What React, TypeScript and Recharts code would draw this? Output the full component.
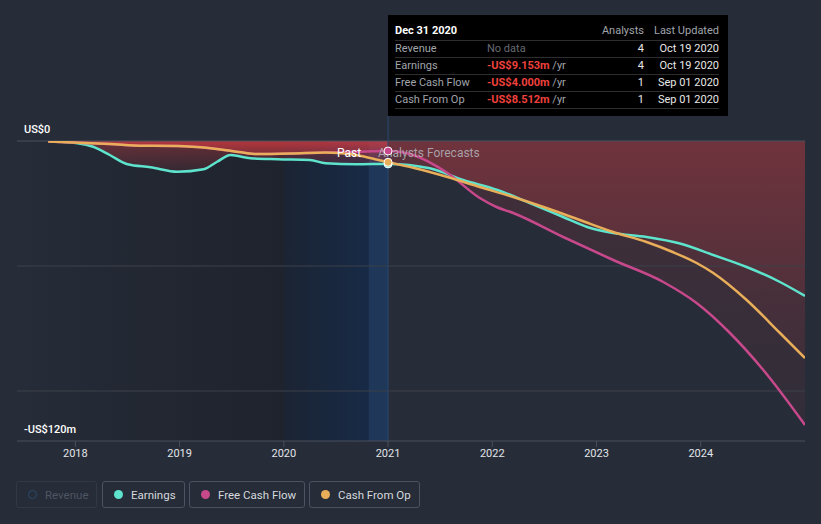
import React from "react";
import {
  ComposedChart,
  Line,
  Area,
  XAxis,
  YAxis,
  ReferenceArea,
  ReferenceLine,
  ReferenceDot,
} from "recharts";

document.body.style.margin = "0";
document.body.style.background = "#262c38";

// t = fractional year, v = US$ millions
const earnings = [
  { t: 2017.74, v: -0.1 },
  { t: 2018.02, v: -0.9 },
  { t: 2018.17, v: -2.3 },
  { t: 2018.33, v: -5.6 },
  { t: 2018.5, v: -9.3 },
  { t: 2018.72, v: -10.5 },
  { t: 2018.98, v: -12.3 },
  { t: 2019.23, v: -11.3 },
  { t: 2019.36, v: -8.3 },
  { t: 2019.49, v: -5.6 },
  { t: 2019.68, v: -6.9 },
  { t: 2019.94, v: -7.3 },
  { t: 2020.25, v: -7.6 },
  { t: 2020.4, v: -8.9 },
  { t: 2020.69, v: -9.3 },
  { t: 2021.0, v: -9.153 },
  { t: 2021.4, v: -10.9 },
  { t: 2021.72, v: -15.6 },
  { t: 2022.05, v: -19.6 },
  { t: 2022.36, v: -24.8 },
  { t: 2022.68, v: -30.4 },
  { t: 2022.91, v: -34.4 },
  { t: 2023.16, v: -36.8 },
  { t: 2023.48, v: -38.4 },
  { t: 2023.8, v: -41.0 },
  { t: 2024.12, v: -45.6 },
  { t: 2024.44, v: -50.4 },
  { t: 2024.76, v: -56.4 },
  { t: 2025.0, v: -62 },
];

const freeCashFlow = [
  { t: 2017.74, v: -0.2 },
  { t: 2018.33, v: -1.2 },
  { t: 2018.65, v: -1.9 },
  { t: 2018.98, v: -2.0 },
  { t: 2019.3, v: -2.9 },
  { t: 2019.62, v: -4.7 },
  { t: 2019.72, v: -5.2 },
  { t: 2020.07, v: -5.0 },
  { t: 2020.4, v: -4.6 },
  { t: 2020.69, v: -4.3 },
  { t: 2021.0, v: -4.0 },
  { t: 2021.24, v: -5.6 },
  { t: 2021.57, v: -12.8 },
  { t: 2021.88, v: -22.8 },
  { t: 2022.04, v: -26.4 },
  { t: 2022.2, v: -28.8 },
  { t: 2022.68, v: -38.4 },
  { t: 2023.16, v: -47.6 },
  { t: 2023.64, v: -56.4 },
  { t: 2023.96, v: -64.8 },
  { t: 2024.28, v: -76.8 },
  { t: 2024.6, v: -91.6 },
  { t: 2025.0, v: -113.6 },
];

const cashFromOp = [
  { t: 2017.74, v: -0.2 },
  { t: 2018.33, v: -1.2 },
  { t: 2018.65, v: -1.9 },
  { t: 2018.98, v: -2.0 },
  { t: 2019.3, v: -2.9 },
  { t: 2019.62, v: -4.7 },
  { t: 2019.72, v: -5.2 },
  { t: 2020.07, v: -5.0 },
  { t: 2020.4, v: -4.6 },
  { t: 2020.65, v: -5.3 },
  { t: 2020.84, v: -6.9 },
  { t: 2021.0, v: -8.512 },
  { t: 2021.25, v: -10.8 },
  { t: 2021.57, v: -14.4 },
  { t: 2021.88, v: -18.4 },
  { t: 2022.2, v: -22.4 },
  { t: 2022.52, v: -26.8 },
  { t: 2022.84, v: -31.6 },
  { t: 2023.16, v: -36.4 },
  { t: 2023.48, v: -40.4 },
  { t: 2023.73, v: -44.4 },
  { t: 2023.96, v: -48.8 },
  { t: 2024.12, v: -52.8 },
  { t: 2024.44, v: -63.6 },
  { t: 2024.76, v: -76.8 },
  { t: 2025.0, v: -86.8 },
];

const yearTicks = [2018, 2019, 2020, 2021, 2022, 2023, 2024];
const gridValues = [-50, -100];
const xDomain = [2017.44, 2025.0];
const yDomain = [-120, 0];
const todayT = 2021.0;
const pastStart = 2020.0;
const bandStart = 2020.815;

const tooltipRows = [
  { name: "Revenue", value: null, analysts: "4", updated: "Oct 19 2020" },
  { name: "Earnings", value: "-US$9.153m", analysts: "4", updated: "Oct 19 2020" },
  { name: "Free Cash Flow", value: "-US$4.000m", analysts: "1", updated: "Sep 01 2020" },
  { name: "Cash From Op", value: "-US$8.512m", analysts: "1", updated: "Sep 01 2020" },
];

const legendItems = [
  { name: "Revenue", color: "#2b4a6b", off: true, left: 16, width: 81 },
  { name: "Earnings", color: "#5ee3cd", off: false, left: 102, width: 83 },
  { name: "Free Cash Flow", color: "#c8488c", off: false, left: 189, width: 116 },
  { name: "Cash From Op", color: "#e9ae5a", off: false, left: 309, width: 111 },
];

const TEAL = "#5ee3cd";
const PINK = "#c8488c";
const ORANGE = "#e9ae5a";
const FONT = "Roboto, 'Noto Sans', sans-serif";

const past = (d: { t: number; v: number }[]) => d.filter((p) => p.t <= todayT);
const future = (d: { t: number; v: number }[]) => d.filter((p) => p.t >= todayT);

const YLabel = (text: string) => (props: any) => {
  const { viewBox } = props;
  return (
    <text x={24} y={viewBox.y - 8} fill="#ffffff" fontSize={11} fontWeight={500} fontFamily={FONT}>
      {text}
    </text>
  );
};

const TodayLabel = (props: any) => {
  const { viewBox } = props;
  const x = viewBox.x;
  const y = viewBox.y;
  return (
    <g>
      <line x1={x} x2={x} y1={y - 25} y2={y} stroke="#2c4870" strokeWidth={1} />
      <text x={x - 27} y={y + 16} textAnchor="end" fill="#ffffff" fontSize={12} fontFamily={FONT}>
        Past
      </text>
      <text x={x - 10} y={y + 16} fill="#b4b7bd" fillOpacity={0.85} fontSize={12} fontFamily={FONT}>
        Analysts Forecasts
      </text>
    </g>
  );
};

const Tooltipish = () => (
  <div
    style={{
      position: "absolute",
      left: 388,
      top: 15,
      width: 340,
      height: 101,
      background: "#000",
      fontFamily: FONT,
      fontSize: 11,
      boxSizing: "border-box",
      padding: "7px 9px 0 7px",
    }}
  >
    <div
      style={{
        display: "grid",
        gridTemplateColumns: "92px 107px 50px 75px",
        height: 18,
        lineHeight: "18px",
        borderBottom: "1px solid #2e2e2e",
      }}
    >
      <span style={{ color: "#fff", fontWeight: 700 }}>Dec 31 2020</span>
      <span />
      <span style={{ color: "#a0a4ab", textAlign: "right" }}>Analysts</span>
      <span style={{ color: "#a0a4ab", textAlign: "right" }}>Last Updated</span>
    </div>
    {tooltipRows.map((r) => (
      <div
        key={r.name}
        style={{
          display: "grid",
          gridTemplateColumns: "92px 107px 50px 75px",
          height: 16,
          lineHeight: "16px",
          borderBottom: "1px solid #2e2e2e",
        }}
      >
        <span style={{ color: "#a0a4ab" }}>{r.name}</span>
        {r.value ? (
          <span>
            <span style={{ color: "#f0403c", fontWeight: 700 }}>{r.value}</span>
            <span style={{ color: "#a0a4ab" }}> /yr</span>
          </span>
        ) : (
          <span style={{ color: "#676b73" }}>No data</span>
        )}
        <span style={{ color: "#e8e8e8", textAlign: "right" }}>{r.analysts}</span>
        <span style={{ color: "#e8e8e8", textAlign: "right" }}>{r.updated}</span>
      </div>
    ))}
  </div>
);

const LegendBoxes = () => (
  <>
    {legendItems.map((it) => (
      <div
        key={it.name}
        style={{
          position: "absolute",
          left: it.left,
          top: 481,
          width: it.width,
          height: 27,
          boxSizing: "border-box",
          border: `1px solid ${it.off ? "#323945" : "#4c5260"}`,
          borderRadius: 3,
          display: "flex",
          alignItems: "center",
          paddingLeft: 11,
          fontFamily: FONT,
          fontSize: 11.5,
          color: it.off ? "#4e5563" : "#d5d8dd",
        }}
      >
        <span
          style={{
            display: "inline-block",
            width: 9,
            height: 9,
            borderRadius: "50%",
            boxSizing: "border-box",
            background: it.off ? "transparent" : it.color,
            border: it.off ? `1.5px solid ${it.color}` : "none",
            marginRight: 8,
          }}
        />
        {it.name}
      </div>
    ))}
  </>
);

export default function App() {
  return (
    <div style={{ position: "relative", width: 821, height: 524, background: "#262c38", overflow: "hidden" }}>
      <ComposedChart width={821} height={470} margin={{ top: 141, right: 16, bottom: 0, left: 17 }}>
        <defs>
          <linearGradient id="pastShade" x1="0" y1="0" x2="1" y2="0">
            <stop offset="0%" stopColor="#0b0d11" stopOpacity={0} />
            <stop offset="100%" stopColor="#0b0d11" stopOpacity={0.3} />
          </linearGradient>
          <linearGradient id="navyShade" x1="0" y1="0" x2="1" y2="0">
            <stop offset="0%" stopColor="#1b2433" />
            <stop offset="100%" stopColor="#172a46" />
          </linearGradient>
          <linearGradient id="pastRed" x1="0" y1="0" x2="0" y2="1">
            <stop offset="0%" stopColor="#de3c42" stopOpacity={0.38} />
            <stop offset="100%" stopColor="#de3c42" stopOpacity={0.1} />
          </linearGradient>
          <linearGradient id="fcRed" x1="0" y1="0" x2="0" y2="1">
            <stop offset="0%" stopColor="#da3e44" stopOpacity={0.16} />
            <stop offset="100%" stopColor="#da3e44" stopOpacity={0.06} />
          </linearGradient>
        </defs>
        <XAxis
          type="number"
          dataKey="t"
          domain={xDomain}
          allowDataOverflow
          ticks={yearTicks}
          tickSize={6}
          height={29}
          axisLine={{ stroke: "#4a505b" }}
          tickLine={{ stroke: "#4a505b" }}
          tick={{ fill: "#e3e5e9", fontSize: 11, fontFamily: FONT }}
        />
        <YAxis type="number" domain={yDomain} allowDataOverflow hide />
        <ReferenceArea x1={xDomain[0]} x2={pastStart} fill="url(#pastShade)" fillOpacity={1} stroke="none" />
        <ReferenceArea x1={pastStart} x2={bandStart} fill="url(#navyShade)" fillOpacity={1} stroke="none" />
        <ReferenceArea x1={bandStart} x2={todayT} fill="#1f3759" fillOpacity={1} stroke="none" />
        {gridValues.map((g) => (
          <ReferenceLine key={g} y={g} stroke="#3c414b" strokeWidth={1} />
        ))}
        <ReferenceLine y={yDomain[1]} stroke="#4b515c" strokeWidth={1} label={YLabel("US$0")} />
        <ReferenceLine y={yDomain[0]} stroke="none" label={YLabel("-US$120m")} />

        <Area data={past(earnings)} dataKey="v" type="monotone" stroke="none" fill="url(#pastRed)" fillOpacity={1} isAnimationActive={false} />
        <Area data={past(freeCashFlow)} dataKey="v" type="monotone" stroke="none" fill="url(#pastRed)" fillOpacity={1} isAnimationActive={false} />
        <Area data={past(cashFromOp)} dataKey="v" type="monotone" stroke="none" fill="url(#pastRed)" fillOpacity={1} isAnimationActive={false} />
        <Area data={future(earnings)} dataKey="v" type="monotone" stroke="none" fill="url(#fcRed)" fillOpacity={1} isAnimationActive={false} />
        <Area data={future(freeCashFlow)} dataKey="v" type="monotone" stroke="none" fill="url(#fcRed)" fillOpacity={1} isAnimationActive={false} />
        <Area data={future(cashFromOp)} dataKey="v" type="monotone" stroke="none" fill="url(#fcRed)" fillOpacity={1} isAnimationActive={false} />

        <Line data={earnings} dataKey="v" type="monotone" stroke={TEAL} strokeWidth={2.5} dot={false} activeDot={false} isAnimationActive={false} />
        <Line data={freeCashFlow} dataKey="v" type="monotone" stroke={PINK} strokeWidth={2.5} dot={false} activeDot={false} isAnimationActive={false} />
        <Line data={cashFromOp} dataKey="v" type="monotone" stroke={ORANGE} strokeWidth={2.5} dot={false} activeDot={false} isAnimationActive={false} />

        <ReferenceLine x={todayT} stroke="#2c4870" strokeWidth={1} label={TodayLabel} />
        <ReferenceDot x={todayT} y={earnings.find((p) => p.t === todayT)!.v} r={4} fill={TEAL} stroke="#ffffff" strokeWidth={1} />
        <ReferenceDot x={todayT} y={freeCashFlow.find((p) => p.t === todayT)!.v} r={4} fill={PINK} stroke="#ffffff" strokeWidth={1} />
        <ReferenceDot x={todayT} y={cashFromOp.find((p) => p.t === todayT)!.v} r={4} fill={ORANGE} stroke="#ffffff" strokeWidth={1} />
      </ComposedChart>
      <Tooltipish />
      <LegendBoxes />
    </div>
  );
}
